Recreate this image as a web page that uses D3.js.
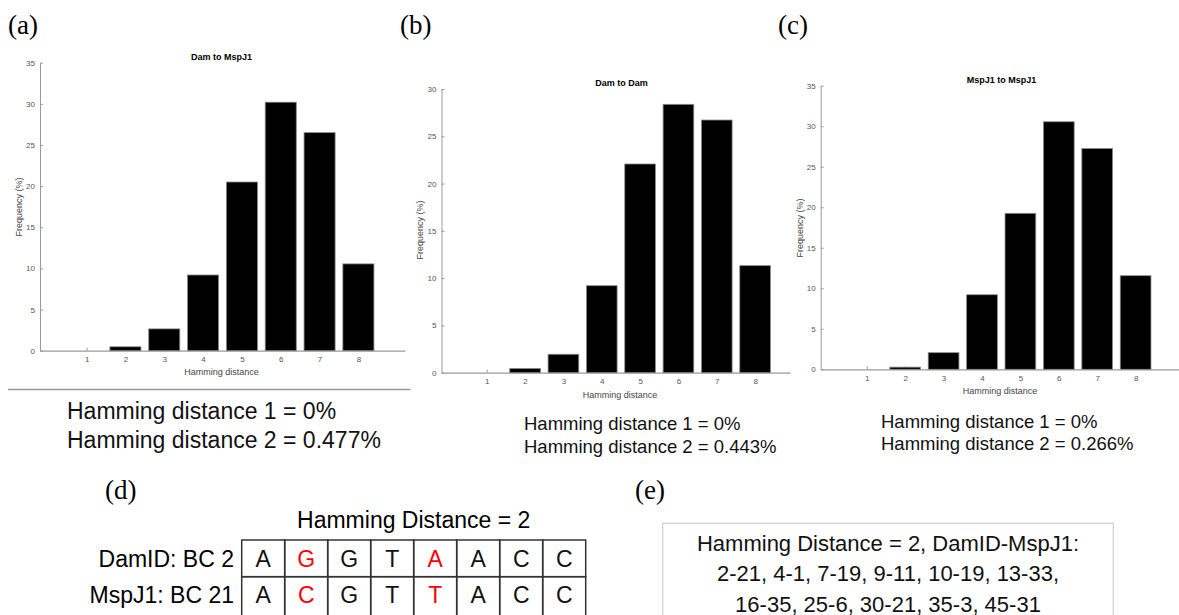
<!DOCTYPE html>
<html>
<head>
<meta charset="utf-8">
<script src="https://cdn.jsdelivr.net/npm/d3@7"></script>
<style>
  html, body { margin: 0; padding: 0; background: #fff; }
  svg { display: block; }
</style>
</head>
<body>
<svg id="fig" width="1179" height="615"></svg>
<script>
// Hamming distance histograms between barcode sets
const hamming = [1, 2, 3, 4, 5, 6, 7, 8];
const damToMspJ1 = [0, 0.477, 2.65, 9.2, 20.5, 30.2, 26.5, 10.55];
const damToDam = [0, 0.443, 1.95, 9.2, 22.07, 28.38, 26.72, 11.32];
const mspJ1ToMspJ1 = [0, 0.266, 2.05, 9.2, 19.25, 30.55, 27.25, 11.55];
const yTicks35 = [0, 5, 10, 15, 20, 25, 30, 35];
const yTicks30 = [0, 5, 10, 15, 20, 25, 30];

// Summary text under each histogram
const summaryA = ["Hamming distance 1 = 0%", "Hamming distance 2 = 0.477%"];
const summaryB = ["Hamming distance 1 = 0%", "Hamming distance 2 = 0.443%"];
const summaryC = ["Hamming distance 1 = 0%", "Hamming distance 2 = 0.266%"];

// Barcode comparison (d)
const rowLabels = ["DamID: BC 2", "MspJ1: BC 21"];
const damBarcode = ["A", "G", "G", "T", "A", "A", "C", "C"];
const mspBarcode = ["A", "C", "G", "T", "T", "A", "C", "C"];

// Barcode pairs (e)
const pairLines = [
  "Hamming Distance = 2, DamID-MspJ1:",
  "2-21, 4-1, 7-19, 9-11, 10-19, 13-33,",
  "16-35, 25-6, 30-21, 35-3, 45-31"
];

const SANS = "'Liberation Sans', Arial, Helvetica, sans-serif";
const SERIF = "'Liberation Serif', 'Times New Roman', serif";
const svg = d3.select("#fig");

const panels = [
  { key: "a", title: "Dam to MspJ1", values: damToMspJ1, yMax: 35, ticks: yTicks35,
    xRange: [40, 405], xDomain: [-0.2, 9.2], yRange: [350.7, 62.7],
    titleX: 221.5, titleY: 60, yLabX: 19, yLabY: 207, xLabX: 221.5, xLabY: 375,
    summary: summaryA, sumX: 67, sumY: [419, 448], sumSize: 23 },
  { key: "b", title: "Dam to Dam", values: damToDam, yMax: 30, ticks: yTicks30,
    xRange: [441.5, 790], xDomain: [-0.18, 8.91], yRange: [372.7, 89],
    titleX: 621.5, titleY: 86, yLabX: 420, yLabY: 230, xLabX: 620, xLabY: 397.5,
    summary: summaryB, sumX: 524, sumY: [430, 453], sumSize: 18.5 },
  { key: "c", title: "MspJ1 to MspJ1", values: mspJ1ToMspJ1, yMax: 35, ticks: yTicks35,
    xRange: [820.7, 1179], xDomain: [-0.2, 9.13], yRange: [369.3, 85.7],
    titleX: 1001.5, titleY: 82.5, yLabX: 799.5, yLabY: 228, xLabX: 1000, xLabY: 394,
    summary: summaryC, sumX: 881, sumY: [428, 450], sumSize: 18.5 }
];

const axisGrey = "#9a9a9a";
const tickText = "#555";

panels.forEach(p => {
  const g = svg.append("g").attr("class", "panel-" + p.key);
  const x = d3.scaleLinear().domain(p.xDomain).range(p.xRange);
  const y = d3.scaleLinear().domain([0, p.yMax]).range(p.yRange);
  const barW = 0.8 * (x(2) - x(1));

  // y axis
  const yAxis = d3.axisLeft(y).tickValues(p.ticks).tickSizeInner(-3).tickSizeOuter(0).tickPadding(5);
  const gy = g.append("g").attr("transform", `translate(${p.xRange[0]},0)`).call(yAxis);
  gy.select(".domain").attr("stroke", axisGrey).attr("stroke-width", 1);
  gy.selectAll(".tick line").attr("stroke", axisGrey);
  gy.selectAll(".tick text").attr("fill", tickText).style("font-family", SANS).style("font-size", "8px");

  // x axis
  const xAxis = d3.axisBottom(x).tickValues(hamming).tickSizeInner(-3).tickSizeOuter(0).tickPadding(6);
  const gx = g.append("g").attr("transform", `translate(0,${p.yRange[0]})`).call(xAxis);
  gx.select(".domain").attr("stroke", axisGrey).attr("stroke-width", 1.2);
  gx.selectAll(".tick line").attr("stroke", axisGrey);
  gx.selectAll(".tick text").attr("fill", tickText).style("font-family", SANS).style("font-size", "8px");

  // bars
  g.append("g").selectAll("rect").data(p.values).join("rect")
    .attr("x", (d, i) => x(hamming[i]) - barW / 2)
    .attr("y", d => y(d))
    .attr("width", barW)
    .attr("height", d => y(0) - y(d))
    .attr("fill", "#000")
    .attr("stroke", "#8a8a8a")
    .attr("stroke-width", 0.8);

  // title
  g.append("text").attr("x", p.titleX).attr("y", p.titleY).attr("text-anchor", "middle")
    .style("font-family", SANS).style("font-size", "9px").style("font-weight", "bold")
    .text(p.title);

  // axis labels
  g.append("text").attr("transform", `translate(${p.yLabX},${p.yLabY}) rotate(-90)`)
    .attr("text-anchor", "middle").attr("dy", "0.35em").attr("fill", "#444")
    .style("font-family", SANS).style("font-size", "9px").text("Frequency (%)");
  g.append("text").attr("x", p.xLabX).attr("y", p.xLabY).attr("text-anchor", "middle")
    .attr("fill", "#444").style("font-family", SANS).style("font-size", "9px").text("Hamming distance");

  // summary lines
  g.selectAll("text.summary").data(p.summary).join("text").attr("class", "summary")
    .attr("x", p.sumX).attr("y", (d, i) => p.sumY[i])
    .style("font-family", SANS).style("font-size", p.sumSize + "px").attr("fill", "#111")
    .text(d => d);
});

// rule under panel (a)
svg.append("line").attr("x1", 8).attr("x2", 410.5).attr("y1", 389.5).attr("y2", 389.5)
  .attr("stroke", "#9a9a9a").attr("stroke-width", 1.5);

// panel letters
const letters = [
  { t: "(a)", x: 8, y: 34 }, { t: "(b)", x: 400, y: 34 }, { t: "(c)", x: 778, y: 34 },
  { t: "(d)", x: 105, y: 499 }, { t: "(e)", x: 635, y: 499 }
];
svg.selectAll("text.letter").data(letters).join("text").attr("class", "letter")
  .attr("x", d => d.x).attr("y", d => d.y)
  .style("font-family", SERIF).style("font-size", "27px").text(d => d.t);

// (d) barcode table; the lower row runs past the bottom edge
const cellX = d3.scaleBand().domain(d3.range(damBarcode.length)).range([241.7, 585.7]);
const rowY = d3.scaleBand().domain([0, 1]).range([540, 613.4]);
const tbl = svg.append("g").attr("class", "barcode-table");
tbl.append("text").attr("x", (241.7 + 585.7) / 2).attr("y", 527.5).attr("text-anchor", "middle")
  .style("font-family", SANS).style("font-size", "23px").text("Hamming Distance = 2");

[damBarcode, mspBarcode].forEach((seq, r) => {
  tbl.append("text").attr("x", 234).attr("y", rowY(r) + rowY.bandwidth() / 2 + 8.3)
    .attr("text-anchor", "end").style("font-family", SANS).style("font-size", "23px")
    .text(rowLabels[r]);
  tbl.selectAll(null).data(seq).join("rect")
    .attr("x", (d, i) => cellX(i)).attr("y", rowY(r))
    .attr("width", cellX.bandwidth()).attr("height", rowY.bandwidth() + (r === 1 ? 6 : 0))
    .attr("fill", "none").attr("stroke", "#333").attr("stroke-width", 1.5);
  tbl.selectAll(null).data(seq).join("text")
    .attr("x", (d, i) => cellX(i) + cellX.bandwidth() / 2)
    .attr("y", rowY(r) + rowY.bandwidth() / 2 + 8.3)
    .attr("text-anchor", "middle").style("font-family", SANS).style("font-size", "23px")
    .attr("fill", (d, i) => damBarcode[i] !== mspBarcode[i] ? "#ff0000" : "#111")
    .text(d => d);
});

// (e) barcode pair box
const box = svg.append("g").attr("class", "pair-box");
box.append("rect").attr("x", 662.7).attr("y", 523.3).attr("width", 450.6).attr("height", 110)
  .attr("fill", "#fff").attr("stroke", "#d0d0d0").attr("stroke-width", 1.2);
box.selectAll("text").data(pairLines).join("text")
  .attr("x", 888).attr("y", (d, i) => [550.5, 581, 611.5][i])
  .attr("text-anchor", "middle").style("font-family", SANS).style("font-size", "22px")
  .attr("fill", "#111").text(d => d);
</script>
</body>
</html>
